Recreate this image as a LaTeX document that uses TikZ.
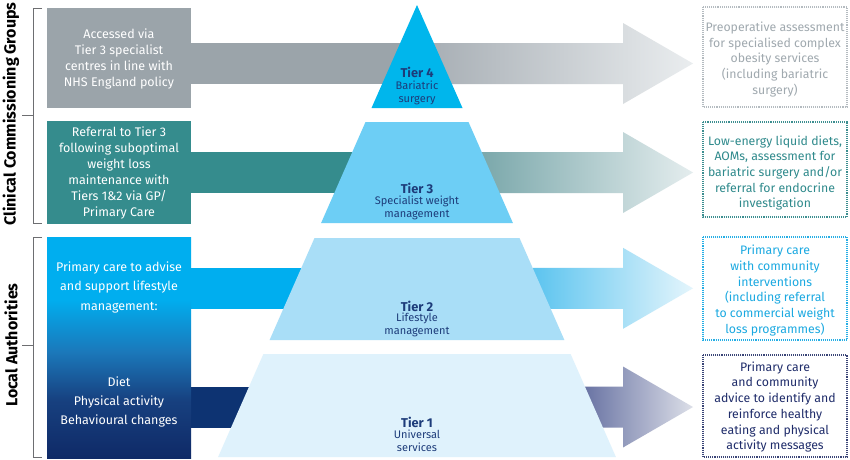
\documentclass[tikz,border=0pt]{standalone}
\usepackage{fontspec}
\setmainfont{Fira Sans}
\definecolor{cgrey}{HTML}{9BA4AA}
\definecolor{cgreyR}{HTML}{A9B0B6}
\definecolor{cgreyE}{HTML}{EAEDEF}
\definecolor{cteal}{HTML}{358C8D}
\definecolor{ctealR}{HTML}{7BA8AB}
\definecolor{ctealE}{HTML}{E4EDEE}
\definecolor{cblue}{HTML}{00AEEF}
\definecolor{cblueR}{HTML}{5CC4EF}
\definecolor{cblueE}{HTML}{E4F5FC}
\definecolor{cnavy}{HTML}{0D3372}
\definecolor{cnavyR}{HTML}{6A74A4}
\definecolor{cnavyE}{HTML}{DCDFE8}
\definecolor{tierfour}{HTML}{00B6EC}
\definecolor{tierthree}{HTML}{6DCEF5}
\definecolor{tiertwo}{HTML}{A9DEF7}
\definecolor{tierone}{HTML}{DFF2FC}
\definecolor{tiertxt}{HTML}{1D3C7A}
\definecolor{bracketc}{HTML}{6D6E71}
\definecolor{laA}{HTML}{00AEEF}
\definecolor{laB}{HTML}{1B78BA}
\definecolor{laC}{HTML}{17407F}
\definecolor{laD}{HTML}{0F2A67}
\definecolor{rgreyt}{HTML}{A0A9AF}
\definecolor{rgreyb}{HTML}{B4BBC0}
\definecolor{rtealt}{HTML}{2F8A8C}
\definecolor{rtealb}{HTML}{3C8E90}
\definecolor{rbluet}{HTML}{1BA9E1}
\definecolor{rblueb}{HTML}{25AEE5}
\definecolor{rnavyt}{HTML}{1F2C6A}
\definecolor{rnavyb}{HTML}{3A4577}
\pgfdeclareverticalshading{labox}{100bp}{color(0bp)=(laD); color(25bp)=(laD); color(38bp)=(laC); color(49bp)=(laB); color(61bp)=(laA); color(100bp)=(laA)}
\newcommand\shaftarrow[5]{%
  \fill[#3] (185,#1-20.5) rectangle (417,#1+20.5);
  \shade[left color=#4, right color=#5] (#2,#1-20.5) -- (623,#1-20.5) -- (623,#1-40.5)
     -- (693,#1) -- (623,#1+40.5) -- (623,#1+20.5) -- (#2,#1+20.5) -- cycle;
}
\tikzset{
  lefttext/.style={text=white, align=center, inner sep=0pt},
  tiertitle/.style={text=tiertxt, inner sep=0pt, font=\fontsize{12.8}{14}\selectfont\bfseries},
  tiersub/.style={text=tiertxt, align=center, inner sep=0pt, font=\fontsize{11}{12.8}\selectfont},
  rbox/.style={densely dotted, line width=1.1pt},
  rtext/.style={align=center, inner sep=0pt, font=\fontsize{12.3}{15.7}\selectfont},
  bracket/.style={draw=bracketc, line width=0.9pt},
  sidelabel/.style={rotate=90, inner sep=0pt, font=\fontsize{16}{18}\selectfont\bfseries}
}
\begin{document}
\begin{tikzpicture}[x=1pt,y=-1pt]
\useasboundingbox (0,0) rectangle (850,459);
\fill[white] (0,0) rectangle (850,459);
% arrows behind the pyramid
\shaftarrow{63.5}{434}{cgrey}{cgreyR}{cgreyE}
\shaftarrow{172.5}{482}{cteal}{ctealR}{ctealE}
\shaftarrow{288.3}{533}{cblue}{cblueR}{cblueE}
\shaftarrow{407}{585}{cnavy}{cnavyR}{cnavyE}
% left boxes
\fill[cgrey] (47,7.5) rectangle (191,107.5);
\fill[cteal] (47,121) rectangle (191,224);
\shade[shading=labox] (47,237) rectangle (191,458);
\node[lefttext, font=\fontsize{12.5}{16}\selectfont] (g) at (119,59) {Accessed via\\Tier 3 specialist\\centres in line with\\NHS England policy};
\node[lefttext, font=\fontsize{12.5}{16}\selectfont] (t) at (119,173) {Referral to Tier 3\\following suboptimal\\weight loss\\maintenance with\\Tiers 1\&2 via GP/\\Primary Care};
\node[lefttext, font=\fontsize{12.5}{19.5}\selectfont] (b1) at (119,287) {Primary care to advise\\and support lifestyle\\management:};
\node[lefttext, font=\fontsize{12.5}{19}\selectfont] (b2) at (119,402) {Diet\\Physical activity\\Behavioural changes};
% pyramid
\fill[tierfour] (417,5) -- (462.5,108) -- (371.5,108) -- cycle;
\fill[tierthree] (365.5,122) -- (468.5,122) -- (512.9,223) -- (321.1,223) -- cycle;
\fill[tiertwo] (314.5,238) -- (519.5,238) -- (564.4,340) -- (269.6,340) -- cycle;
\fill[tierone] (263.4,354) -- (570.6,354) -- (615.9,457) -- (218.1,457) -- cycle;
\node[tiertitle] (t4) at (417,72) {Tier 4};
\node[tiersub] (s4) at (417,92.5) {Bariatric\\surgery};
\node[tiertitle] (t3) at (417,188) {Tier 3};
\node[tiersub] (s3) at (417,207.5) {Specialist weight\\management};
\node[tiertitle] (t2) at (417,306) {Tier 2};
\node[tiersub] (s2) at (417,325) {Lifestyle\\management};
\node[tiertitle] (t1) at (417,422) {Tier 1};
\node[tiersub] (s1) at (417,440.5) {Universal\\services};
% right boxes
\draw[rbox, draw=rgreyb] (703,7) rectangle (847,107);
\draw[rbox, draw=rtealb] (703,122) rectangle (847,217);
\draw[rbox, draw=rblueb] (703,237) rectangle (847,340);
\draw[rbox, draw=rnavyb] (703,355) rectangle (847,457);
\node[rtext, text=rgreyt] (r1) at (775,59.5) {Preoperative assessment\\for specialised complex\\obesity services\\(including bariatric\\surgery)};
\node[rtext, text=rtealt] (r2) at (775,173) {Low-energy liquid diets,\\AOMs, assessment for\\bariatric surgery and/or\\referral for endocrine\\investigation};
\node[rtext, text=rbluet] (r3) at (775,290.5) {Primary care\\with community\\interventions\\(including referral\\to commercial weight\\loss programmes)};
\node[rtext, text=rnavyt] (r4) at (775,407) {Primary care\\and community\\advice to identify and\\reinforce healthy\\eating and physical\\activity messages};
% brackets and side labels
\draw[bracket] (42,8) -- (33,8) -- (33,223) -- (42,223);
\draw[bracket] (22,115) -- (33,115);
\draw[bracket] (42,237) -- (33,237) -- (33,457) -- (42,457);
\draw[bracket] (22,345) -- (33,345);
\node[sidelabel] (ccg) at (11,114) {Clinical Commissioning Groups};
\node[sidelabel] (la) at (11,345) {Local Authorities};
\end{tikzpicture}
\end{document}
